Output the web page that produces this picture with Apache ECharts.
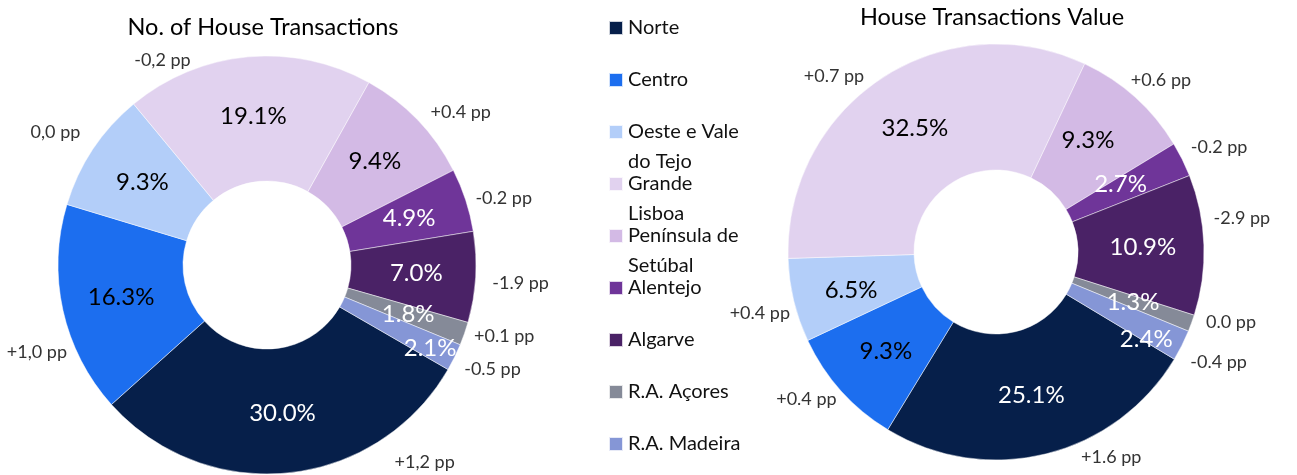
<!DOCTYPE html>
<html>
<head>
<meta charset="utf-8">
<script src="https://cdn.jsdelivr.net/npm/echarts@6/dist/echarts.min.js"></script>
<style>
html,body{margin:0;padding:0;background:#fff;}
#chart{width:1297px;height:475px;}
</style>
</head>
<body>
<div id="chart"></div>
<script>
// ---- data ----
const categories = ['Norte','Centro','Oeste e Vale do Tejo','Grande Lisboa','Península de Setúbal','Alentejo','Algarve','R.A. Açores','R.A. Madeira'];
const legendLabels = ['Norte','Centro','Oeste e Vale\ndo Tejo','Grande\nLisboa','Península de\nSetúbal','Alentejo','Algarve','R.A. Açores','R.A. Madeira'];
const shareCount = [30.0, 16.3, 9.3, 19.1, 9.4, 4.9, 7.0, 1.8, 2.1];
const shareValue = [25.1, 9.3, 6.5, 32.5, 9.3, 2.7, 10.9, 1.3, 2.4];
const ppCount = ['+1,2 pp','+1,0 pp','0,0 pp','-0,2 pp','+0.4 pp','-0.2 pp','-1.9 pp','+0.1 pp','-0.5 pp'];
const ppValue = ['+1.6 pp','+0.4 pp','+0.4 pp','+0.7 pp','+0.6 pp','-0.2 pp','-2.9 pp','0.0 pp','-0.4 pp'];
const titles = ['No. of House Transactions','House Transactions Value'];

// ---- styles ----
const colors = ['#061F4A','#1C6EEF','#B3CEF9','#E1D2EF','#D3BAE5','#6F3599','#4A2266','#858A98','#8596D6'];
const pctTextColors = ['#fff','#000','#000','#000','#000','#fff','#fff','#fff','#fff'];
// label nudges (style only)
const pctNudgeL = [[0,0],[0,0],[0,0],[0,0],[0,0],[0,0],[0,0],[0,0],[29,17]];
const pctNudgeR = [[0,0],[0,0],[-1,4],[0,0],[-7,-2],[-8,-2],[-1,0],[-2,0],[18,21]];
const ppNudgeL = [[132,-49],[12,33],[-5,4],[-82,42],[15,19],[1,10],[6,4],[3,-10],[3,-5]];
const ppNudgeR = [[56,-36],[-5,-18],[5,3],[-26,32],[-1,13],[1,6],[-2,-25],[2,-15],[1,-1]];

const FONT = 'Lato';
const LEGEND_LINE = 30, LEGEND_STEP = 52, LEGEND_FIRST = 28;

function donut(values, center, r0, r1, startAngle, nudges) {
  return {
    type: 'pie',
    center: center,
    radius: [r0, r1],
    startAngle: startAngle,
    clockwise: true,
    avoidLabelOverlap: false,
    animation: false,
    silent: true,
    itemStyle: { borderColor: 'rgba(255,255,255,0.8)', borderWidth: 0.6 },
    label: {
      show: true, position: 'inside', fontFamily: FONT, fontSize: 24,
      formatter: p => p.value.toFixed(1) + '%'
    },
    labelLine: { show: false },
    labelLayout: p => ({ dx: nudges[p.dataIndex][0], dy: nudges[p.dataIndex][1] }),
    data: values.map((v, i) => ({
      name: categories[i], value: v,
      itemStyle: { color: colors[i] },
      label: { color: pctTextColors[i] }
    }))
  };
}

function ppRing(values, labels, center, r0, r1, startAngle, nudges) {
  return {
    type: 'pie',
    center: center,
    radius: [r0, r1],
    startAngle: startAngle,
    clockwise: true,
    avoidLabelOverlap: false,
    animation: false,
    silent: true,
    itemStyle: { color: 'rgba(0,0,0,0)' },
    label: {
      show: true, position: 'inside', fontFamily: FONT, fontSize: 18, fontWeight: 'normal',
      color: '#333',
      formatter: p => labels[p.dataIndex]
    },
    labelLine: { show: false },
    labelLayout: p => ({ dx: nudges[p.dataIndex][0], dy: nudges[p.dataIndex][1] }),
    data: values.map((v, i) => ({ name: categories[i], value: v }))
  };
}

// one legend block per category so wrapped names overflow downward like the original
const legends = categories.map((name, i) => {
  const label = legendLabels[i];
  const extra = label.split('\n').length - 1;          // continuation lines
  const text = '\n'.repeat(extra) + label;             // pad above so 1st line sits on the icon
  const nLines = 1 + 2 * extra;
  return {
    orient: 'vertical',
    left: 608,
    top: LEGEND_FIRST + LEGEND_STEP * i - nLines * LEGEND_LINE / 2,
    padding: 0,
    itemWidth: 14, itemHeight: 14,
    icon: 'rect',
    selectedMode: false,
    data: [name],
    formatter: () => text,
    textStyle: { fontFamily: FONT, fontSize: 20, color: '#111', lineHeight: LEGEND_LINE }
  };
});

const chart = echarts.init(document.getElementById('chart'), null, { renderer: 'canvas' });
chart.setOption({
  backgroundColor: '#fff',
  animation: false,
  title: [
    { text: titles[0], left: 263, top: 15, padding: 0, textAlign: 'center',
      textStyle: { fontFamily: FONT, fontSize: 23.5, fontWeight: 'normal', color: '#000' } },
    { text: titles[1], left: 992, top: 5, padding: 0, textAlign: 'center',
      textStyle: { fontFamily: FONT, fontSize: 23.5, fontWeight: 'normal', color: '#000' } }
  ],
  legend: legends,
  series: [
    donut(shareCount, [267, 265], 84, 209, -30, pctNudgeL),
    donut(shareValue, [996, 252], 82, 208, -31, pctNudgeR),
    ppRing(shareCount, ppCount, [267, 265], 209, 281, -30, ppNudgeL),
    ppRing(shareValue, ppValue, [996, 252], 208, 282, -31, ppNudgeR)
  ]
});
</script>
</body>
</html>
